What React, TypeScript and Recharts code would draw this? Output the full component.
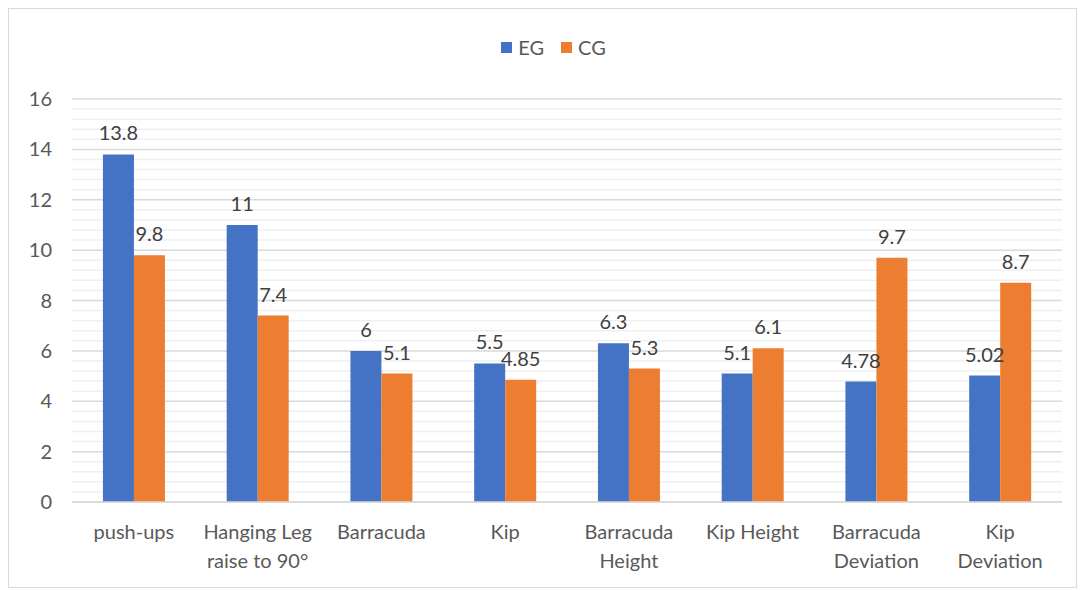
import React from "react";
import {
  BarChart,
  Bar,
  XAxis,
  YAxis,
  CartesianGrid,
  Legend,
  LabelList,
  ReferenceLine,
} from "recharts";

const categories = [
  "push-ups",
  "Hanging Leg\nraise to 90°",
  "Barracuda",
  "Kip",
  "Barracuda\nHeight",
  "Kip Height",
  "Barracuda\nDeviation",
  "Kip\nDeviation",
];
const egValues = [13.8, 11, 6, 5.5, 6.3, 5.1, 4.78, 5.02];
const cgValues = [9.8, 7.4, 5.1, 4.85, 5.3, 6.1, 9.7, 8.7];
const majorTicks = [0, 2, 4, 6, 8, 10, 12, 14, 16];
const minorTicks = [
  0.4, 0.8, 1.2, 1.6, 2.4, 2.8, 3.2, 3.6, 4.4, 4.8, 5.2, 5.6, 6.4, 6.8, 7.2,
  7.6, 8.4, 8.8, 9.2, 9.6, 10.4, 10.8, 11.2, 11.6, 12.4, 12.8, 13.2, 13.6,
  14.4, 14.8, 15.2, 15.6,
];

const data = categories.map((name, i) => ({
  name,
  EG: egValues[i],
  CG: cgValues[i],
}));

const FONT = "Lato, 'Open Sans', sans-serif";
const BLUE = "#4472C4";
const ORANGE = "#ED7D31";

function CategoryTick(props: any) {
  const { x, y, payload } = props;
  const lines = String(payload.value).split("\n");
  return (
    <text
      x={x}
      y={y + 29}
      textAnchor="middle"
      fill="#595959"
      fontSize={20}
      fontFamily={FONT}
    >
      {lines.map((l, i) => (
        <tspan key={i} x={x} dy={i === 0 ? 0 : 29}>
          {l}
        </tspan>
      ))}
    </text>
  );
}

function LegendContent() {
  const items = [
    { label: "EG", color: BLUE },
    { label: "CG", color: ORANGE },
  ];
  return (
    <div
      style={{
        display: "flex",
        justifyContent: "center",
        gap: 17,
        fontFamily: FONT,
        fontSize: 20,
        color: "#595959",
        paddingLeft: 36,
      }}
    >
      {items.map((it) => (
        <span key={it.label} style={{ display: "flex", alignItems: "center" }}>
          <span
            style={{
              width: 11,
              height: 11,
              background: it.color,
              display: "inline-block",
              marginRight: 6,
            }}
          />
          {it.label}
        </span>
      ))}
    </div>
  );
}

export default function App() {
  return (
    <div
      style={{
        width: 1067,
        height: 578,
        border: "1px solid #d9d9d9",
        background: "#fff",
      }}
    >
      <BarChart
        width={1067}
        height={578}
        data={data}
        margin={{ top: 66, right: 14, bottom: 0, left: 0 }}
        barCategoryGap="25%"
        barGap={0}
      >
        <CartesianGrid vertical={false} stroke="#d9d9d9" strokeWidth={1.5} />
        {/* minor gridlines every 0.4 */}
        {minorTicks.map((v) => (
          <ReferenceLine
            key={v}
            y={v}
            stroke="#efefef"
            strokeWidth={1.5}
            zIndex={-50}
          />
        ))}
        <XAxis
          dataKey="name"
          tick={<CategoryTick />}
          tickLine={false}
          axisLine={{ stroke: "#d9d9d9", strokeWidth: 1.5 }}
          interval={0}
          height={85}
        />
        <YAxis
          domain={[0, 16]}
          ticks={majorTicks}
          axisLine={false}
          tickLine={false}
          width={63}
          tickMargin={14}
          tick={{ fill: "#595959", fontSize: 20, fontFamily: FONT }}
        />
        <Legend
          verticalAlign="top"
          content={<LegendContent />}
          wrapperStyle={{ top: 26 }}
        />
        <Bar dataKey="EG" fill={BLUE} isAnimationActive={false}>
          <LabelList
            dataKey="EG"
            position="top"
            offset={14}
            fill="#404040"
            fontSize={20}
            fontFamily={FONT}
          />
        </Bar>
        <Bar dataKey="CG" fill={ORANGE} isAnimationActive={false}>
          <LabelList
            dataKey="CG"
            position="top"
            offset={14}
            fill="#404040"
            fontSize={20}
            fontFamily={FONT}
          />
        </Bar>
      </BarChart>
    </div>
  );
}
